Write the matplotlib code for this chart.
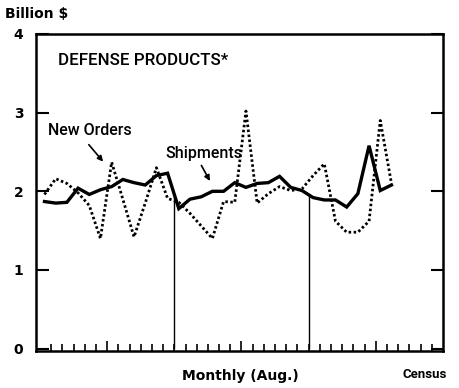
import numpy as np
import matplotlib
matplotlib.use('Agg')
import matplotlib.pyplot as plt

# Defense products, monthly, three years through August (billion $)
shipments = [1.87, 1.85, 1.86, 2.04, 1.96, 2.02, 2.06, 2.15, 2.11, 2.08, 2.20, 2.23,
             1.78, 1.90, 1.93, 2.00, 2.00, 2.11, 2.05, 2.10, 2.11, 2.19, 2.05, 2.01,
             1.92, 1.89, 1.89, 1.80, 1.97, 2.58, 2.01, 2.08]
new_orders = [1.96, 2.16, 2.10, 1.98, 1.82, 1.40, 2.37, 1.90, 1.42, 1.85, 2.30, 1.91,
              1.86, 1.72, 1.56, 1.40, 1.87, 1.86, 3.02, 1.85, 1.97, 2.06, 2.01, 2.03,
              2.20, 2.35, 1.62, 1.48, 1.48, 1.62, 2.90, 2.10]
year_breaks = [12, 24]
mid_year = [6, 18, 30]
y_ticks = [0, 1, 2, 3, 4]

months = np.arange(len(shipments)) + 0.4

narrow = ['Liberation Sans Narrow', 'DejaVu Sans Condensed', 'Roboto', 'DejaVu Sans']

fig = plt.figure(figsize=(4.59, 3.88), dpi=100)
ax = fig.add_axes([0.0784, 0.0954, 0.8866, 0.817])

ax.plot(months, new_orders, color='black', lw=2.0, linestyle=(0, (0.9, 0.9)),
        solid_capstyle='butt', dash_capstyle='butt')
ax.plot(months, shipments, color='black', lw=2.4, solid_joinstyle='miter')

# year separators run up to the shipments line
for xb in year_breaks:
    ax.vlines(xb, 0, np.interp(xb, months, shipments), color='black', lw=1.0)

ax.set_xlim(-0.36, 36)
ax.set_ylim(-0.03, 4)

for s in ax.spines.values():
    s.set_linewidth(1.8)

ax.set_yticks(y_ticks)
ax.set_yticklabels([str(v) for v in y_ticks], fontweight='bold', fontsize=10)
ax.tick_params(axis='y', direction='in', length=9, width=1.5, pad=9,
               right=True, left=True)

ax.set_xticks(mid_year)
ax.set_xticks([m for m in range(1, 36) if m not in mid_year], minor=True)
ax.set_xticklabels([])
ax.tick_params(axis='x', which='major', direction='in', length=7, width=1.2)
ax.tick_params(axis='x', which='minor', direction='in', length=5, width=1.2)

ax.text(1.6, 3.66, 'DEFENSE PRODUCTS*', fontsize=12.2, family=narrow,
        fontweight='medium', va='center')
ax.text(0.7, 2.77, 'New Orders', fontsize=11.5, family=narrow,
        fontweight='medium', va='center')
ax.text(11.2, 2.48, 'Shipments', fontsize=11.5, family=narrow,
        fontweight='medium', va='center')
ax.annotate('', xy=(5.8, 2.35), xytext=(4.2, 2.62),
            arrowprops=dict(arrowstyle='-|>', color='black', lw=1.2,
                            mutation_scale=8))
ax.annotate('', xy=(15.3, 2.10), xytext=(14.3, 2.36),
            arrowprops=dict(arrowstyle='-|>', color='black', lw=1.2,
                            mutation_scale=8))

fig.text(5 / 459, 1 - 14 / 388, 'Billion $', fontsize=10, fontweight='bold',
         va='center', ha='left')
fig.text(240 / 459, 1 - 376 / 388, 'Monthly (Aug.)', fontsize=10,
         fontweight='bold', va='center', ha='center')
fig.text(425 / 459, 1 - 375 / 388, 'Census', fontsize=9.5, fontweight='bold',
         va='center', ha='center', family=narrow)

fig.savefig('out.png', dpi=100)
